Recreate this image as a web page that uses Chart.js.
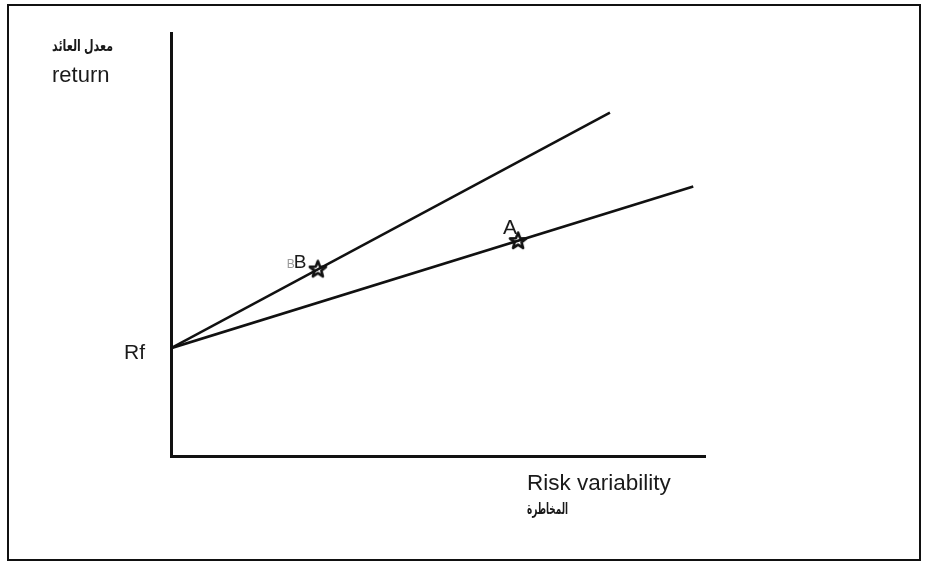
<!DOCTYPE html>
<html>
<head>
<meta charset="utf-8">
<script src="https://cdn.jsdelivr.net/npm/chart.js@4"></script>
<style>
    body { margin: 0; background: #fff; }
    #frame {
        position: absolute; left: 7px; top: 4px; width: 914px; height: 557px;
        box-sizing: border-box; border: 2px solid #111;
    }
    #wrap { position: absolute; left: 0; top: 0; width: 928px; height: 565px; }
</style>
</head>
<body>
<div id="frame"></div>
<div id="wrap"><canvas id="ChartRisk" width="928" height="565"></canvas></div>
<script>
// values (x = risk, y = return, both on a 0-100 scale)
var rf = 25.5;
var upperLine = [{ x: 0, y: rf }, { x: 82.2, y: 81.2 }];
var lowerLine = [{ x: 0, y: rf }, { x: 97.8, y: 63.7 }];
var pointLabels = ['B', 'A'];
var pointX = [27.5, 65.0];
var pointY = [44.1, 50.8];
var yTitle = ['معدل العائد', 'return'];
var xTitle = ['Risk variability', 'المخاطرة'];
var rfLabel = 'Rf';

var lineColor = '#111';
var fontFam = '"Liberation Sans", Arial, "DejaVu Sans", sans-serif';

// outlined five point star used as point marker
function makeStar() {
    var c = document.createElement('canvas');
    c.width = 22; c.height = 22;
    var g = c.getContext('2d');
    g.beginPath();
    for (var i = 0; i < 10; i++) {
        var r = i % 2 === 0 ? 8.5 : 3.6;
        var a = -Math.PI / 2 + i * Math.PI / 5;
        var px = 11 + r * Math.cos(a), py = 11 + r * Math.sin(a);
        if (i === 0) g.moveTo(px, py); else g.lineTo(px, py);
    }
    g.closePath();
    g.lineWidth = 2.6;
    g.lineJoin = 'round';
    g.strokeStyle = lineColor;
    g.stroke();
    return c;
}

var pointData = pointX.map(function (x, i) { return { x: x, y: pointY[i] }; });

const labelsPlugin = {
    id: 'labelsPlugin',
    afterDraw: function (chart) {
        var ctx = chart.ctx, area = chart.chartArea;
        var sx = chart.scales.x, sy = chart.scales.y;
        ctx.save();
        ctx.fillStyle = '#1a1a1a';
        ctx.textBaseline = 'alphabetic';
        ctx.textAlign = 'left';
        // y axis title
        ctx.font = 'bold 16px ' + fontFam;
        ctx.fillText(yTitle[0], area.left - 119, area.top + 18, 61);
        ctx.font = '22px ' + fontFam;
        ctx.fillText(yTitle[1], area.left - 119, area.top + 49);
        // x axis title
        ctx.font = '22.5px ' + fontFam;
        ctx.fillText(xTitle[0], 527, area.bottom + 34);
        ctx.font = 'bold 16px ' + fontFam;
        ctx.fillText(xTitle[1], 527, area.bottom + 58, 41);
        // Rf
        ctx.font = '21px ' + fontFam;
        ctx.textAlign = 'right';
        ctx.fillText(rfLabel, area.left - 26, sy.getPixelForValue(rf) + 11);
        ctx.textAlign = 'left';
        // point labels
        var px = sx.getPixelForValue(pointX[0]), py = sy.getPixelForValue(pointY[0]);
        ctx.font = '12px ' + fontFam;
        ctx.fillStyle = '#999';
        ctx.fillText(pointLabels[0], px - 31, py - 1);
        ctx.fillStyle = '#1a1a1a';
        ctx.font = '19px ' + fontFam;
        ctx.fillText(pointLabels[0], px - 24, py - 1);
        px = sx.getPixelForValue(pointX[1]); py = sy.getPixelForValue(pointY[1]);
        ctx.font = '21px ' + fontFam;
        ctx.fillText(pointLabels[1], px - 15, py - 7);
        ctx.restore();
    }
};

const ChartRisk = document.getElementById('ChartRisk');
new Chart(ChartRisk, {
    type: 'scatter',
    data: {
        datasets: [
            {
                data: pointData,
                pointStyle: makeStar(),
                pointRadius: 9,
                showLine: false,
                order: 0
            },
            {
                data: upperLine,
                showLine: true,
                borderColor: lineColor,
                borderWidth: 2.6,
                pointRadius: 0,
                order: 1
            },
            {
                data: lowerLine,
                showLine: true,
                borderColor: lineColor,
                borderWidth: 2.6,
                pointRadius: 0,
                order: 1
            }
        ]
    },
    options: {
        responsive: false,
        animation: false,
        events: [],
        layout: { padding: { left: 171, top: 33, right: 223, bottom: 109 } },
        plugins: {
            legend: { display: false },
            tooltip: { enabled: false }
        },
        scales: {
            x: {
                type: 'linear', min: 0, max: 100,
                ticks: { display: false },
                grid: { display: false, drawTicks: false },
                border: { display: true, width: 3, color: lineColor },
                afterFit: function (s) { s.height = 0; }
            },
            y: {
                type: 'linear', min: 0, max: 100,
                ticks: { display: false },
                grid: { display: false, drawTicks: false },
                border: { display: true, width: 3, color: lineColor },
                afterFit: function (s) { s.width = 0; }
            }
        }
    },
    plugins: [labelsPlugin]
});
</script>
</body>
</html>
